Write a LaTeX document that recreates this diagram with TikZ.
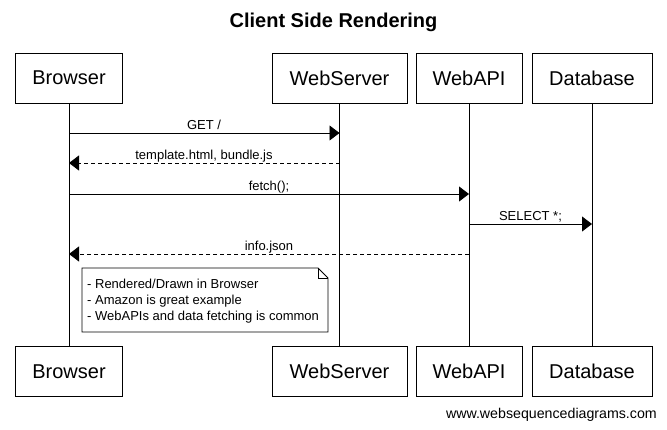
\documentclass[tikz,border=0pt]{standalone}
\usepackage{fontspec}
\setmainfont{Liberation Sans}
\usetikzlibrary{arrows.meta}
\begin{document}
\begin{tikzpicture}[x=1pt,y=-1pt,
  actor/.style={draw,line width=0.9pt,inner sep=0pt,minimum height=50pt,font=\fontsize{20}{22}\selectfont},
  life/.style={line width=0.9pt},
  msg/.style={line width=0.9pt,-{Triangle[length=10pt,width=15pt]}},
  reply/.style={msg,dash pattern=on 4pt off 3pt},
  lbl/.style={font=\fontsize{13}{15}\selectfont,inner sep=0pt,anchor=base}
]
\useasboundingbox (0,0) rectangle (667,429);
\fill[white] (0,0) rectangle (667,429);
\node[font=\bfseries\fontsize{20}{24}\selectfont] (title) at (333.5,22) {Client Side Rendering};
% top actors
\node[actor,minimum width=107pt] (bT) at (69,78) {Browser};
\node[actor,minimum width=135pt] (sT) at (339.5,78) {WebServer};
\node[actor,minimum width=106pt] (aT) at (469,78) {WebAPI};
\node[actor,minimum width=120pt] (dT) at (592,78) {Database};
% bottom actors
\node[actor,minimum width=107pt] (bB) at (69,371.5) {Browser};
\node[actor,minimum width=135pt] (sB) at (339.5,371.5) {WebServer};
\node[actor,minimum width=106pt] (aB) at (469,371.5) {WebAPI};
\node[actor,minimum width=120pt] (dB) at (592,371.5) {Database};
% lifelines
\draw[life] (bT) -- (bB);
\draw[life] (sT) -- (sB);
\draw[life] (aT) -- (aB);
\draw[life] (dT) -- (dB);
% message endpoints
\coordinate (b1) at (69,133);  \coordinate (s1) at (339.5,133);
\coordinate (s2) at (339.5,163); \coordinate (b2) at (69,163);
\coordinate (b3) at (69,194);  \coordinate (a3) at (469,194);
\coordinate (a4) at (469,224); \coordinate (d4) at (592,224);
\coordinate (a5) at (469,254); \coordinate (b5) at (69,254);
\draw[msg] (b1) -- (s1);
\node[lbl] (l1) at (204,129) {GET /};
\draw[reply] (s2) -- (b2);
\node[lbl] (l2) at (204,159) {template.html, bundle.js};
\draw[msg] (b3) -- (a3);
\node[lbl] (l3) at (269,190) {fetch();};
\draw[msg] (a4) -- (d4);
\node[lbl] (l4) at (530.5,220) {SELECT *;};
\draw[reply] (a5) -- (b5);
\node[lbl] (l5) at (269,250) {info.json};
% note
\draw[line width=0.9pt,fill=white] (82,268) -- (318,268) -- (328,278) -- (328,332) -- (82,332) -- cycle;
\draw[line width=0.9pt] (318,268) -- (318,278) -- (328,278);
\node[font=\fontsize{13}{16}\selectfont,align=left,anchor=north west,inner sep=0pt] (note) at (87,279)
  {- Rendered/Drawn in Browser\\- Amazon is great example\\- WebAPIs and data fetching is common};
\node[font=\fontsize{14.2}{16}\selectfont,anchor=base east,inner sep=0pt] (foot) at (657,418) {www.websequencediagrams.com};
\end{tikzpicture}
\end{document}
